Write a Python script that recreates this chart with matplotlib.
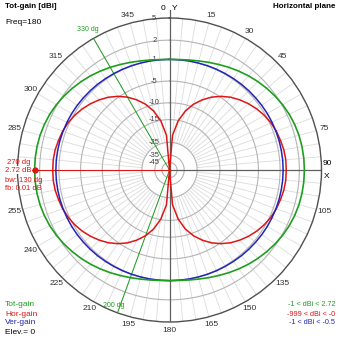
import numpy as np
import matplotlib.pyplot as plt
from matplotlib import font_manager

# azimuth, compass style: 0 = Y axis, clockwise, 5 degree steps
azimuth = np.arange(0, 360, 5)

hor_gain = [-999, -21.2, -15.2, -11.7, -9.3, -7.5, -6.0, -4.8, -3.8, -3.0, -2.3, -1.7,
            -1.2, -0.8, -0.5, -0.3, -0.1, -0.0, -0.0, -0.0, -0.1, -0.3, -0.5, -0.8,
            -1.2, -1.7, -2.3, -3.0, -3.8, -4.8, -6.0, -7.5, -9.3, -11.7, -15.2, -21.2,
            -999, -21.2, -15.2, -11.7, -9.3, -7.5, -6.0, -4.8, -3.8, -3.0, -2.3, -1.7,
            -1.2, -0.8, -0.5, -0.3, -0.1, -0.0, -0.0, -0.0, -0.1, -0.3, -0.5, -0.8,
            -1.2, -1.7, -2.3, -3.0, -3.8, -4.8, -6.0, -7.5, -9.3, -11.7, -15.2, -21.2]

ver_gain = [-1.00, -1.00, -0.98, -0.97, -0.94, -0.91, -0.88, -0.84, -0.79, -0.75, -0.71, -0.66,
            -0.62, -0.59, -0.56, -0.53, -0.52, -0.50, -0.50, -0.50, -0.52, -0.53, -0.56, -0.59,
            -0.62, -0.66, -0.71, -0.75, -0.79, -0.84, -0.88, -0.91, -0.94, -0.97, -0.98, -1.00,
            -1.00, -1.00, -0.98, -0.97, -0.94, -0.91, -0.88, -0.84, -0.79, -0.75, -0.71, -0.66,
            -0.62, -0.59, -0.56, -0.53, -0.52, -0.50, -0.50, -0.50, -0.52, -0.53, -0.56, -0.59,
            -0.62, -0.66, -0.71, -0.75, -0.79, -0.84, -0.88, -0.91, -0.94, -0.97, -0.98, -1.00]

tot_gain = [-1.00, -0.96, -0.82, -0.62, -0.35, -0.05, 0.29, 0.63, 0.97, 1.28, 1.58, 1.86,
            2.11, 2.32, 2.48, 2.60, 2.67, 2.71, 2.72, 2.71, 2.67, 2.60, 2.48, 2.32,
            2.11, 1.86, 1.58, 1.28, 0.97, 0.63, 0.29, -0.05, -0.35, -0.62, -0.82, -0.96,
            -1.00, -0.96, -0.82, -0.62, -0.35, -0.05, 0.29, 0.63, 0.97, 1.28, 1.58, 1.86,
            2.11, 2.32, 2.48, 2.60, 2.67, 2.71, 2.72, 2.71, 2.67, 2.60, 2.48, 2.32,
            2.11, 1.86, 1.58, 1.28, 0.97, 0.63, 0.29, -0.05, -0.35, -0.62, -0.82, -0.96]

ring_levels = [5, 2, -1, -5, -10, -15, -25, -35, -45]
angle_labels = [15, 30, 45, 75, 105, 135, 150, 165, 180, 195,
                210, 225, 240, 255, 285, 300, 315, 345]

max_az, max_gain = 270, 2.72
bw_left, bw_right = 200, 330
TOP_DB = 5

GREEN = "#1e9e1e"
RED = "#dd1515"
BLUE = "#2323b8"

names = {f.name for f in font_manager.fontManager.ttflist}
plt.rcParams["font.family"] = [n for n in ("Liberation Sans Narrow", "Liberation Sans", "DejaVu Sans")
                               if n in names]


def log_radius(db):
    # ARRL-like log scale, 1.0 at the outer ring
    db = np.asarray(db, dtype=float)
    d = TOP_DB - db
    r = np.exp(-0.052 * d - 0.00016 * d ** 2)
    return np.where(db < -100, 0.0, r)


def closed(values):
    th = np.radians(np.append(azimuth, 360))
    return th, log_radius(np.append(values, values[0]))


W = H = 339
cx, cy, R = 169.5, 170, 152

fig = plt.figure(figsize=(W / 100, H / 100), dpi=100)
fig.patch.set_facecolor("white")
ax = fig.add_axes([(cx - R) / W, (H - cy - R) / H, 2 * R / W, 2 * R / H], projection="polar")
ax.set_theta_zero_location("N")
ax.set_theta_direction(-1)
ax.set_ylim(0, 1)
ax.set_xticks([])
ax.set_yticks([])
ax.grid(False)
ax.spines["polar"].set_color("#505050")
ax.spines["polar"].set_linewidth(1.0)

full = np.radians(np.linspace(0, 360, 361))
r_spoke_in = float(log_radius(-25))
for a in range(0, 360, 5):
    if a % 90 == 0:
        continue
    ax.plot([np.radians(a)] * 2, [r_spoke_in, 1], color="#dcdcdc", lw=0.6, zorder=1)
for lvl in ring_levels[1:]:
    ax.plot(full, np.full_like(full, log_radius(lvl)), color="#b4b4b4", lw=0.8, zorder=1)

# main axes
ax.plot([0, 0], [0, 1.05], color="#606060", lw=0.9, zorder=2, clip_on=False)
ax.plot([np.pi, np.pi], [0, 1], color="#606060", lw=0.9, zorder=2)
ax.plot([np.pi / 2, np.pi / 2], [0, 1], color="#606060", lw=0.9, zorder=2)

for lvl in ring_levels:
    ax.annotate(str(lvl), (0, float(log_radius(lvl))), xytext=(-11, 0),
                textcoords="offset points", ha="center", va="center",
                fontsize=5.5, color="#404040", zorder=4)

for a in angle_labels:
    ax.text(np.radians(a), 1.055, str(a), ha="center", va="center",
            fontsize=6, color="#303030", clip_on=False)

# half power beamwidth lines
for a in (bw_left, bw_right):
    ax.plot([np.radians(a)] * 2, [0, 1], color=GREEN, lw=0.7, zorder=3)
ax.text(np.radians(bw_right), 1.07, f"{bw_right} dg", ha="center", va="center",
        fontsize=5, color=GREEN, clip_on=False)
ax.text(np.radians(bw_left + 2.5), 0.965, f"{bw_left} dg", ha="center", va="center",
        fontsize=5, color=GREEN, clip_on=False)

# max gain direction
ax.plot([np.radians(max_az)] * 2, [0, 1], color=RED, lw=0.8, zorder=3)

th, r = closed(hor_gain)
ax.plot(th, r, color=RED, lw=1.1, zorder=5)
th, r = closed(ver_gain)
ax.plot(th, r, color=BLUE, lw=1.1, zorder=5)
th, r = closed(tot_gain)
ax.plot(th, r, color=GREEN, lw=1.2, zorder=6)
ax.plot([np.radians(max_az)], [float(log_radius(max_gain))], "o", color=RED,
        ms=3.5, zorder=7)


def px(x, y):
    return x / W, 1 - y / H


fs = 6
fig.text(*px(5, 6), "Tot-gain [dBi]", fontsize=5.8, weight="bold", ha="left", va="center")
fig.text(*px(5, 23), "Freq=180", fontsize=fs, ha="left", va="center")
fig.text(*px(335, 6), "Horizontal plane", fontsize=5.8, weight="bold", ha="right", va="center")
fig.text(*px(163, 9), "0", fontsize=fs, ha="center", va="center")
fig.text(*px(175, 9), "Y", fontsize=fs, ha="center", va="center")
fig.text(*px(327, 164), "90", fontsize=fs, ha="center", va="center")
fig.text(*px(327, 177), "X", fontsize=fs, ha="center", va="center")

fig.text(*px(7, 162), f"{max_az} dg", fontsize=5.5, color=RED, ha="left", va="center")
fig.text(*px(5, 170), f"{max_gain} dB", fontsize=5.5, color=RED, ha="left", va="center",
         bbox=dict(facecolor="white", edgecolor="none", pad=0.3))
fig.text(*px(5, 180), f"bw: {bw_right - bw_left} dg", fontsize=5.5, color=RED, ha="left", va="center")
fig.text(*px(5, 189), "fb: 0.01 dB", fontsize=5.5, color=RED, ha="left", va="center")

fig.text(*px(5, 305), "Tot-gain", fontsize=fs, color=GREEN, ha="left", va="center")
fig.text(*px(5, 314), "Hor-gain", fontsize=fs, color=RED, ha="left", va="center")
fig.text(*px(5, 323), "Ver-gain", fontsize=fs, color=BLUE, ha="left", va="center")
fig.text(*px(5, 333), "Elev.= 0", fontsize=fs, color="black", ha="left", va="center")

fs_r = 5.2
fig.text(*px(335, 305), f"{min(tot_gain):g} < dBi < {max(tot_gain):g}", fontsize=fs_r,
         color=GREEN, ha="right", va="center")
fig.text(*px(335, 314), f"{min(hor_gain):g} < dBi < -0", fontsize=fs_r,
         color=RED, ha="right", va="center")
fig.text(*px(335, 323), f"{min(ver_gain):g} < dBi < {max(ver_gain):g}", fontsize=fs_r,
         color=BLUE, ha="right", va="center")

fig.savefig("out.png", dpi=100, facecolor="white")
